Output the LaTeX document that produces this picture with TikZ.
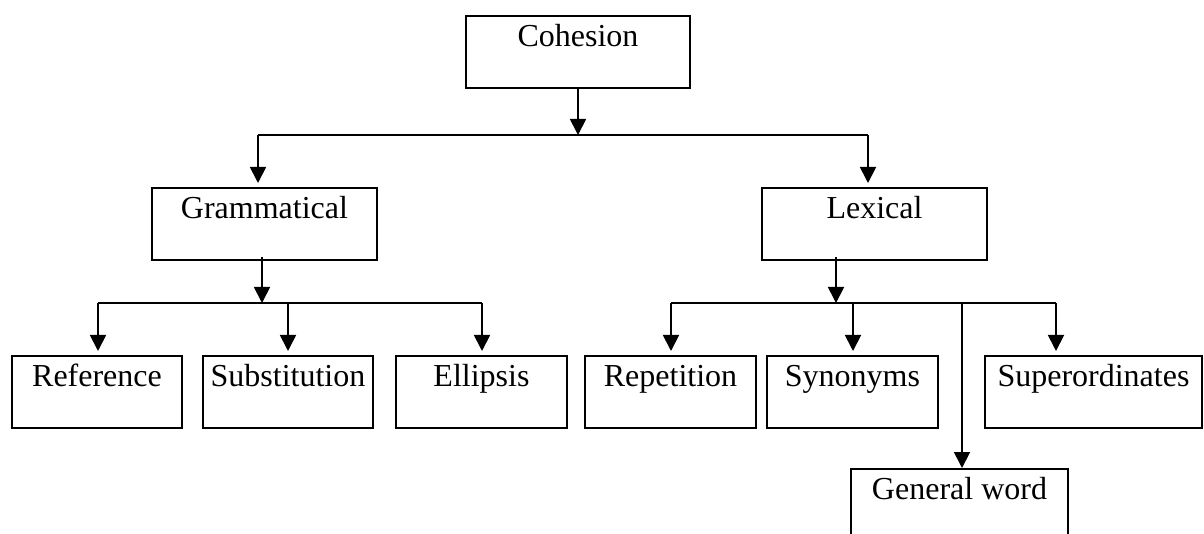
\documentclass[tikz,border=0pt]{standalone}
\usepackage{fontspec}
\setmainfont{Liberation Serif}
\usetikzlibrary{arrows.meta}
\tikzset{
  box/.style={draw, line width=1.8pt, anchor=north, inner xsep=0pt, inner ysep=0pt,
    text height=30.5pt, text depth=41.5pt,
    font=\fontsize{32}{38}\selectfont},
  conn/.style={line width=1.8pt},
  arr/.style={conn, -{Triangle[length=16pt,width=16pt]}},
  arrbox/.style={arr, shorten >=4pt}
}
\begin{document}
\begin{tikzpicture}[x=1pt,y=-1pt]
\useasboundingbox (0,0) rectangle (1204,534);
\clip (0,0) rectangle (1204,534);
% boxes
\node[box, minimum width=224pt] (coh) at (578,15) {Cohesion};
\node[box, minimum width=225pt] (gram) at (264.5,187) {Grammatical};
\node[box, minimum width=225pt] (lex) at (874.5,187) {Lexical};
\node[box, minimum width=170pt] (ref) at (97,355) {Reference};
\node[box, minimum width=170pt] (sub) at (288,355) {Substitution};
\node[box, minimum width=171pt] (ell) at (481.5,355) {Ellipsis};
\node[box, minimum width=171pt] (rep) at (670.5,355) {Repetition};
\node[box, minimum width=171pt] (syn) at (852.5,355) {Synonyms};
\node[box, minimum width=217pt] (sup) at (1093.5,355) {Superordinates};
\node[box, minimum width=217pt] (gen) at (959.5,468) {General word};
% junction coordinates
\coordinate (j1) at (578,135);
\coordinate (b1l) at (258,135);
\coordinate (b1r) at (868,135);
\coordinate (j2) at (262,303);
\coordinate (b2l) at (98,303);
\coordinate (b2m) at (288,303);
\coordinate (b2r) at (482,303);
\coordinate (j3) at (836,303);
\coordinate (b3l) at (671,303);
\coordinate (b3m) at (853,303);
\coordinate (b3g) at (962,303);
\coordinate (b3r) at (1056,303);
% level 1
\draw[arr] (coh.south) -- (j1);
\draw[conn] (b1l) -- (b1r);
\draw[arrbox] (b1l) -- (b1l |- gram.north);
\draw[arrbox] (b1r) -- (b1r |- lex.north);
% grammatical
\draw[arr] ([yshift=4pt]j2 |- gram.south) -- (j2);
\draw[conn] (b2l) -- (b2r);
\draw[arrbox] (b2l) -- (b2l |- ref.north);
\draw[arrbox] (b2m) -- (b2m |- sub.north);
\draw[arrbox] (b2r) -- (b2r |- ell.north);
% lexical
\draw[arr] ([yshift=4pt]j3 |- lex.south) -- (j3);
\draw[conn] (b3l) -- (b3r);
\draw[arrbox] (b3l) -- (b3l |- rep.north);
\draw[arrbox] (b3m) -- (b3m |- syn.north);
\draw[arrbox] (b3r) -- (b3r |- sup.north);
\draw[arr] (b3g) -- (b3g |- gen.north);
\end{tikzpicture}
\end{document}
